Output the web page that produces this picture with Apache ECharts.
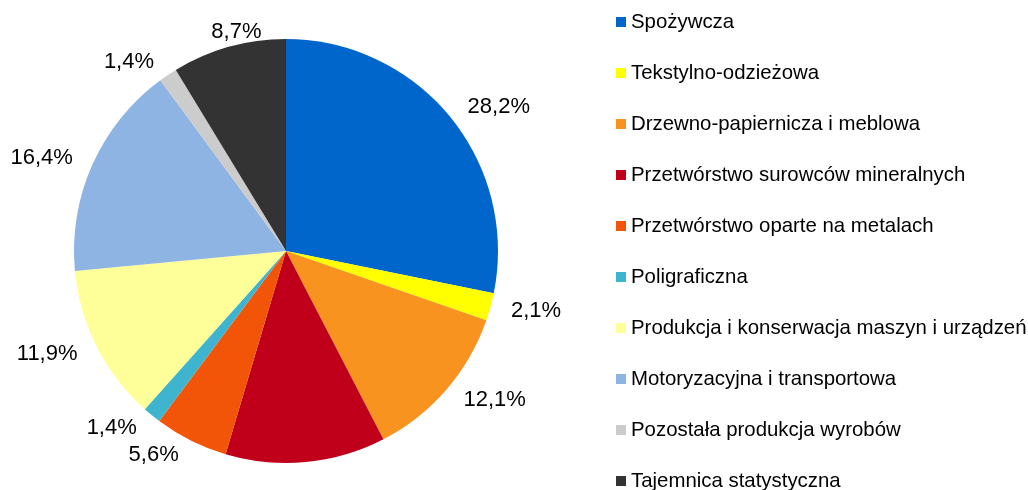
<!DOCTYPE html>
<html>
<head>
<meta charset="utf-8">
<script src="https://cdn.jsdelivr.net/npm/echarts@6/dist/echarts.min.js"></script>
<style>
  html, body { margin: 0; padding: 0; background: #fff; }
  #chart { width: 1028px; height: 490px; }
</style>
</head>
<body>
<div id="chart"></div>
<script>
// udział działów przemysłu (%)
const categories = [
  'Spożywcza',
  'Tekstylno-odzieżowa',
  'Drzewno-papiernicza i meblowa',
  'Przetwórstwo surowców mineralnych',
  'Przetwórstwo oparte na metalach',
  'Poligraficzna',
  'Produkcja i konserwacja maszyn i urządzeń',
  'Motoryzacyjna i transportowa',
  'Pozostała produkcja wyrobów',
  'Tajemnica statystyczna'
]
const shares = [28.2, 2.1, 12.1, 12.2, 5.6, 1.4, 11.9, 16.4, 1.4, 8.7]
const colors = ['#0066CC', '#FFFF00', '#F7931E', '#C0001A', '#F25408',
  '#3EB4CF', '#FFFF99', '#8EB4E3', '#CCCCCC', '#333333']
// etykieta niewidoczna na oryginale
const hiddenLabels = ['Przetwórstwo surowców mineralnych']

const chart = echarts.init(document.getElementById('chart'))

const option = {
  animation: false,
  color: colors,
  legend: {
    orient: 'vertical',
    left: 616,
    top: 12,
    height: 520,
    padding: 0,
    itemWidth: 10,
    itemHeight: 10,
    itemGap: 31,
    icon: 'rect',
    textStyle: {
      fontFamily: 'Liberation Sans, Arial, sans-serif',
      fontSize: 20.4,
      color: '#000'
    },
    data: categories
  },
  series: [
    {
      type: 'pie',
      center: [286, 251],
      radius: 212,
      startAngle: 90,
      clockwise: true,
      avoidLabelOverlap: false,
      label: {
        show: true,
        position: 'outside',
        fontFamily: 'Liberation Sans, Arial, sans-serif',
        fontSize: 22,
        color: '#000',
        formatter: p => p.value.toFixed(1).replace('.', ',') + '%'
      },
      labelLine: { show: false, length: 16, length2: 0 },
      // etykieta 8,7% stoi na oryginale nad wycinkiem
      labelLayout: p => (p.dataIndex === 9 ? { dx: 42 } : {}),
      emphasis: { disabled: true },
      data: categories.map((name, i) => ({
        name: name,
        value: shares[i],
        label: { show: hiddenLabels.indexOf(name) < 0 }
      }))
    }
  ]
}

chart.setOption(option)
</script>
</body>
</html>
